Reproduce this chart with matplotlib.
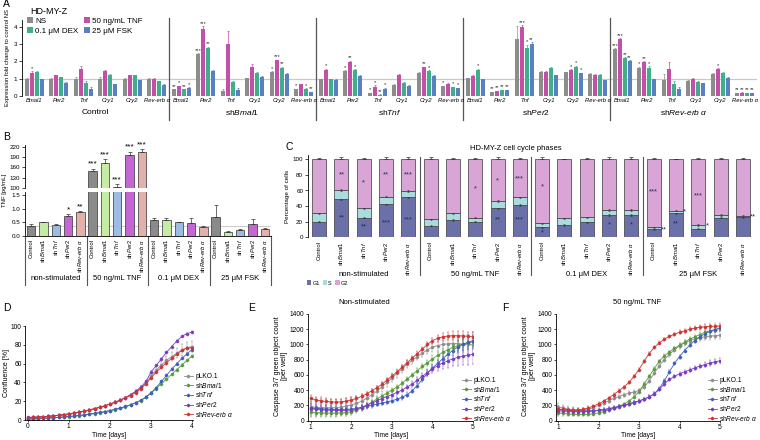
import numpy as np
import matplotlib
matplotlib.use("Agg")
import matplotlib.pyplot as plt
import matplotlib.transforms as mtransforms
from matplotlib.patches import Patch
from matplotlib.lines import Line2D

plt.rcParams['font.family'] = ['Liberation Sans', 'DejaVu Sans']
plt.rcParams['mathtext.fontset'] = 'custom'
plt.rcParams['mathtext.rm'] = 'Liberation Sans'
plt.rcParams['mathtext.it'] = 'Liberation Sans:italic'
plt.rcParams['axes.linewidth'] = 0.6
plt.rcParams['xtick.major.width'] = 0.5
plt.rcParams['ytick.major.width'] = 0.5
plt.rcParams['xtick.major.size'] = 2
plt.rcParams['ytick.major.size'] = 2
plt.rcParams['xtick.major.pad'] = 1.5
plt.rcParams['ytick.major.pad'] = 1.5

# ---------------- panel A: expression fold change ----------------
A_conditions = ["NS", "50 ng/mL TNF", "0.1 μM DEX", "25 μM FSK"]
A_colors = ["#8c8c8c", "#c44fa6", "#3fae8c", "#5b80c2"]
A_genes = ["Bmal1", "Per2", "Tnf", "Cry1", "Cry2", "Rev-erb α"]
A_lines = ["Control", r"sh$\mathit{Bmal1}$", r"sh$\mathit{Tnf}$", r"sh$\mathit{Per2}$",
           r"sh$\mathit{Rev}$-$\mathit{erb}$ $\alpha$"]

# rows = genes, columns = NS, TNF, DEX, FSK
A_control = [[1.0, 1.35, 1.38, 0.98], [1.0, 1.2, 1.08, 0.78], [1.0, 1.55, 0.78, 0.42],
             [1.0, 1.45, 1.22, 0.68], [1.0, 1.2, 1.2, 0.9], [1.0, 0.97, 0.85, 0.65]]
A_shbmal1 = [[0.38, 0.55, 0.38, 0.48], [2.42, 3.9, 2.75, 1.45], [0.28, 3.0, 0.8, 0.35],
             [1.02, 1.68, 1.35, 1.1], [1.37, 2.06, 1.64, 1.27], [0.4, 0.68, 0.42, 0.21]]
A_shtnf = [[0.97, 1.52, 0.97, 0.93], [1.45, 1.98, 1.5, 1.17], [0.15, 0.54, 0.08, 0.42],
           [0.64, 1.21, 0.77, 0.58], [1.35, 1.66, 1.45, 1.16], [0.56, 0.71, 0.5, 0.45]]
A_shper2 = [[1.04, 1.17, 1.52, 0.98], [0.23, 0.29, 0.35, 0.35], [3.28, 3.97, 2.76, 3.0],
            [1.4, 1.4, 1.64, 1.19], [1.37, 1.5, 1.7, 1.31], [1.27, 1.21, 1.21, 0.92]]
A_shrev = [[2.7, 3.28, 2.18, 2.02], [1.62, 1.97, 1.64, 0.97], [0.92, 1.54, 0.69, 0.4],
           [0.88, 1.0, 0.81, 0.73], [1.27, 1.58, 1.35, 1.06], [0.16, 0.19, 0.16, 0.16]]

A_control_err = [[0.03, 0.1, 0.04, 0.03], [0.03, 0.04, 0.03, 0.02], [0.12, 0.2, 0.1, 0.1],
                 [0.1, 0.03, 0.03, 0.02], [0.03, 0.03, 0.03, 0.04], [0.03, 0.05, 0.04, 0.03]]
A_shbmal1_err = [[0.03, 0.04, 0.03, 0.03], [0.05, 0.15, 0.1, 0.08], [0.15, 0.75, 0.05, 0.1],
                 [0.05, 0.15, 0.04, 0.03], [0.05, 0.05, 0.05, 0.05], [0.03, 0.04, 0.03, 0.03]]
A_shtnf_err = [[0.03, 0.05, 0.03, 0.03], [0.05, 0.07, 0.05, 0.04], [0.03, 0.1, 0.02, 0.05],
               [0.03, 0.04, 0.04, 0.03], [0.04, 0.04, 0.04, 0.04], [0.03, 0.04, 0.03, 0.03]]
A_shper2_err = [[0.03, 0.04, 0.06, 0.03], [0.02, 0.02, 0.02, 0.02], [0.75, 0.12, 0.2, 0.1],
                [0.04, 0.04, 0.05, 0.03], [0.04, 0.05, 0.06, 0.04], [0.04, 0.08, 0.04, 0.03]]
A_shrev_err = [[0.05, 0.08, 0.08, 0.05], [0.07, 0.06, 0.1, 0.03], [0.35, 0.45, 0.15, 0.1],
               [0.03, 0.03, 0.03, 0.03], [0.04, 0.04, 0.04, 0.03], [0.02, 0.02, 0.02, 0.02]]

A_control_stars = [["", "*", "", ""], ["", "", "", ""], ["", "", "", ""],
                   ["", "", "", ""], ["", "", "", ""], ["", "", "", ""]]
A_shbmal1_stars = [["**", "*", "**", "*"], ["***", "***", "**", ""], ["", "", "", ""],
                   ["", "", "", ""], ["*", "***", "**", ""], ["*", "", "*", "**"]]
A_shtnf_stars = [["", "*", "", ""], ["*", "**", "*", ""], ["*", "*", "**", "*"],
                 ["", "", "", ""], ["", "**", "*", ""], ["*", "", "*", "*"]]
A_shper2_stars = [["", "", "*", ""], ["**", "**", "**", "**"], ["", "***", "*", "**"],
                  ["", "", "", ""], ["", "*", "*", "*"], ["", "", "", ""]]
A_shrev_stars = [["***", "***", "**", "**"], ["*", "**", "*", ""], ["", "", "", ""],
                 ["", "", "", ""], ["", "*", "", ""], ["**", "**", "**", "**"]]

# ---------------- panel B: TNF secretion ----------------
B_groups = ["non-stimulated", "50 ng/mL TNF", "0.1 μM DEX", "25 μM FSK"]
B_lines = ["Control", r"sh$\mathit{Bmal1}$", r"sh$\mathit{Tnf}$", r"sh$\mathit{Per2}$",
           r"sh$\mathit{Rev}$-$\mathit{erb}$ $\alpha$"]
B_colors = ["#8a8a8a", "#c6eba4", "#9dbbe3", "#c466d4", "#e4b0ac"]
B_nonstim = [0.37, 0.50, 0.39, 0.75, 0.87]
B_nonstim_err = [0.08, 0.03, 0.05, 0.07, 0.03]
B_tnf = [150, 172, 103, 196, 205]
B_tnf_err = [6, 12, 8, 10, 8]
B_dex = [0.59, 0.59, 0.50, 0.46, 0.34]
B_dex_err = [0.06, 0.06, 0.03, 0.19, 0.03]
B_fsk = [0.71, 0.13, 0.21, 0.44, 0.26]
B_fsk_err = [0.42, 0.04, 0.03, 0.18, 0.02]
B_stars = ["", "", "", "*", "**", "***", "***", "***", "***", "***",
           "", "", "", "", "", "", "", "", "", ""]

# ---------------- panel C: cell cycle phases ----------------
C_groups = ["non-stimulated", "50 ng/mL TNF", "0.1 μM DEX", "25 μM FSK"]
C_colors = {"G1": "#6c70a9", "S": "#a9dcdc", "G2": "#d8a5d6"}
C_g1 = [20, 48.7, 25.2, 42.3, 51.3, 15, 22.2, 20, 37, 41.5,
        12.8, 15.8, 19.2, 28.6, 28.6, 10.3, 30.8, 11.1, 25.2, 25.6]
C_s = [10.8, 12, 12, 9.8, 8.1, 8, 8.6, 5.2, 9.6, 9.8,
       5.2, 8.6, 6.4, 6.4, 6.4, 2.5, 3.4, 4.7, 3.4, 1.8]
C_g2 = [69.2, 39.3, 62.8, 47.9, 40.6, 77, 69.2, 74.8, 53.4, 48.7,
        82, 75.6, 74.4, 65, 65, 87.2, 65.8, 84.2, 71.4, 72.6]
C_err = [1.5, 3, 1.5, 3, 2.5, 3, 2, 1.5, 3, 2, 2.5, 1, 1.5, 2.5, 2.5, 1.5, 1, 1.5, 2, 1.5]
C_stars = [(1, 80, "**", "c"), (1, 25, "**", "c"), (2, 70, "*", "c"), (2, 13, "**", "c"),
           (3, 80, "**", "c"), (3, 18, "***", "c"), (4, 80, "***", "c"), (4, 22, "***", "c"),
           (7, 62, "*", "c"), (8, 72, "*", "c"), (8, 22, "**", "c"), (9, 75, "***", "c"),
           (9, 22, "***", "c"), (10, 64, "*", "c"), (10, 6, "*", "c"), (13, 16, "*", "c"),
           (14, 16, "*", "c"), (15, 58, "***", "c"), (16, 17, "**", "c"), (17, 53, "***", "c"),
           (15, 10, "**", "r"), (16, 33, "*", "r"), (17, 14, "*", "r"), (19, 26, "**", "r")]

# ---------------- panels D-F: time courses ----------------
curve_names = ["pLKO.1", r"sh$\mathit{Bmal1}$", r"sh$\mathit{Tnf}$", r"sh$\mathit{Per2}$",
               r"sh$\mathit{Rev}$-$\mathit{erb}$ $\alpha$"]
curve_colors = ["#8c8c8c", "#5a9a3c", "#3c5fbf", "#7a3cc0", "#d23232"]

D_time = [0, 0.125, 0.25, 0.375, 0.5, 0.625, 0.75, 0.875, 1, 1.125, 1.25, 1.375, 1.5, 1.625,
          1.75, 1.875, 2, 2.125, 2.25, 2.375, 2.5, 2.625, 2.75, 2.875, 3, 3.125, 3.25, 3.375,
          3.5, 3.625, 3.75, 3.875, 4]
D_plko = [2.6, 2.8, 3.1, 3.4, 3.8, 4.3, 4.9, 5.6, 6.4, 7.3, 8.3, 9.4, 10.6, 11.9, 13.4, 15.0,
          16.8, 18.8, 21.0, 23.6, 26.6, 30.0, 34.2, 39.5, 47, 53, 58.5, 63.5, 67.5, 71, 74.5, 77, 78]
D_bmal1 = [1.0, 1.2, 1.4, 1.7, 2.0, 2.3, 2.7, 3.1, 3.6, 4.1, 4.7, 5.3, 6.0, 6.8, 7.7, 8.7,
           9.8, 11.0, 12.4, 14.0, 15.9, 18.1, 20.7, 24.0, 28.5, 33.5, 38.5, 43.5, 48.5, 53.5,
           58.5, 63.5, 68]
D_tnf = [1.2, 1.4, 1.6, 1.9, 2.2, 2.5, 2.9, 3.3, 3.8, 4.3, 4.9, 5.6, 6.3, 7.1, 8.0, 9.0,
         10.1, 11.4, 12.8, 14.4, 16.3, 18.5, 21.0, 24.5, 29.0, 34.5, 41, 47.5, 54, 60, 65.5, 70.5, 75]
D_per2 = [2.8, 3.0, 3.3, 3.6, 4.0, 4.5, 5.1, 5.8, 6.6, 7.5, 8.5, 9.6, 10.8, 12.1, 13.6, 15.2,
          17.0, 19.0, 21.3, 23.9, 27.0, 30.6, 35, 41, 51, 58, 65, 72, 78, 84, 89, 92, 93.5]
D_rev = [2.6, 2.9, 3.2, 3.5, 3.9, 4.4, 5.0, 5.7, 6.5, 7.4, 8.4, 9.5, 10.7, 12.0, 13.5, 15.2,
         17.0, 18.9, 21.0, 23.4, 26.0, 29.2, 33.0, 38.5, 45, 51, 56, 61, 65.5, 70, 74, 76.5, 77]
D_plko_err = [0.3, 0.3, 0.3, 0.3, 0.3, 0.3, 0.3, 0.3, 0.4, 0.4, 0.4, 0.5, 0.5, 0.5, 0.6, 0.6,
              0.7, 0.8, 0.9, 1.0, 1.2, 1.5, 2.0, 2.5, 3.0, 3.5, 4.0, 4.5, 5.0, 5.5, 6.0, 6.0, 6.0]
D_other_err = 0.8

EF_time = [1, 1.125, 1.25, 1.375, 1.5, 1.625, 1.75, 1.875, 2, 2.125, 2.25, 2.375, 2.5, 2.625,
           2.75, 2.875, 3, 3.125, 3.25, 3.375, 3.5, 3.625, 3.75, 3.875, 4, 4.125, 4.25, 4.375,
           4.5, 4.625, 4.75, 4.875, 5]
E_plko = [180, 175, 170, 168, 168, 170, 178, 190, 205, 225, 255, 290, 335, 385, 440, 500, 560,
          620, 680, 740, 790, 840, 885, 930, 965, 985, 1000, 1008, 1012, 1010, 1005, 1000, 995]
E_bmal1 = [110, 105, 100, 98, 97, 98, 100, 105, 115, 135, 165, 200, 240, 280, 320, 360, 400,
           440, 490, 545, 600, 655, 710, 760, 810, 855, 895, 930, 960, 985, 1005, 1020, 1035]
E_tnf = [165, 160, 155, 150, 147, 145, 145, 147, 150, 158, 170, 185, 200, 215, 230, 245, 260,
         280, 305, 340, 390, 460, 540, 620, 690, 750, 810, 870, 920, 965, 1000, 1030, 1050]
E_per2 = [155, 148, 142, 138, 135, 133, 133, 135, 140, 155, 175, 200, 228, 258, 288, 315, 340,
          370, 400, 440, 480, 530, 580, 630, 680, 720, 755, 785, 810, 830, 845, 860, 870]
E_rev = [290, 270, 258, 250, 245, 243, 245, 255, 270, 290, 318, 350, 390, 430, 475, 530, 585,
         640, 700, 760, 820, 880, 940, 1000, 1050, 1080, 1100, 1110, 1115, 1115, 1112, 1108, 1100]
E_plko_err = [120, 120, 115, 115, 110, 110, 105, 105, 100, 95, 90, 85, 80, 75, 70, 65, 60,
              55, 50, 50, 50, 50, 50, 55, 60, 70, 80, 90, 100, 110, 120, 125, 130]
E_bmal1_err = [70, 65, 60, 55, 50, 50, 45, 45, 40, 40, 35, 35, 30, 30, 30, 30, 30, 30, 30,
               30, 30, 30, 35, 40, 45, 50, 55, 60, 65, 70, 75, 80, 85]
E_tnf_err = [60, 55, 55, 50, 50, 45, 45, 40, 40, 35, 35, 30, 30, 30, 30, 30, 30, 30, 30,
             30, 30, 30, 35, 40, 45, 50, 55, 60, 70, 80, 90, 100, 110]
E_per2_err = [60, 55, 55, 50, 50, 45, 45, 40, 40, 35, 35, 30, 30, 30, 30, 30, 30, 30, 30,
              30, 35, 40, 45, 50, 60, 70, 80, 90, 100, 110, 120, 125, 130]
E_rev_err = [50, 45, 45, 40, 40, 40, 35, 35, 35, 30, 30, 30, 30, 30, 30, 30, 30, 30, 30,
             30, 30, 30, 30, 35, 40, 45, 50, 55, 60, 60, 60, 60, 60]

F_plko = [175, 165, 150, 140, 135, 138, 150, 170, 200, 230, 260, 290, 315, 340, 360, 375, 395,
          440, 520, 620, 720, 800, 870, 930, 980, 1020, 1050, 1075, 1090, 1100, 1110, 1115, 1120]
F_bmal1 = [100, 95, 88, 82, 80, 80, 82, 88, 100, 115, 135, 160, 185, 215, 255, 310, 380,
           480, 580, 680, 780, 850, 900, 950, 990, 1030, 1070, 1100, 1130, 1160, 1180, 1195, 1210]
F_tnf = [145, 140, 135, 130, 128, 127, 128, 130, 135, 143, 155, 168, 182, 198, 215, 235, 255,
         280, 310, 350, 420, 520, 640, 750, 840, 920, 990, 1050, 1100, 1140, 1170, 1195, 1215]
F_per2 = [130, 125, 120, 118, 117, 118, 120, 125, 132, 142, 155, 170, 186, 203, 220, 238, 258,
          282, 310, 350, 410, 480, 540, 580, 615, 640, 665, 690, 715, 735, 755, 772, 785]
F_rev = [150, 145, 140, 138, 140, 148, 165, 190, 220, 255, 295, 340, 390, 440, 500, 580, 670,
         780, 880, 960, 1020, 1070, 1105, 1135, 1160, 1180, 1200, 1215, 1225, 1232, 1237, 1240, 1242]
F_plko_err = [50, 45, 40, 35, 30, 30, 25, 25, 25, 25, 25, 25, 25, 25, 25, 25, 25, 25, 25, 25,
              25, 30, 30, 30, 35, 35, 40, 40, 45, 45, 50, 50, 50]
F_other_err = [40, 35, 30, 25, 20, 20, 20, 20, 20, 20, 20, 20, 20, 20, 20, 20, 20, 20, 20, 20,
               20, 20, 20, 20, 25, 25, 30, 30, 30, 30, 35, 35, 35]

# ---------------- figure helpers (pixel coordinates, origin top-left) ----------------
W, H = 760, 440
fig = plt.figure(figsize=(7.6, 4.4), dpi=100)


def add_ax(x0, y0, x1, y1):
    return fig.add_axes([x0 / W, 1 - y1 / H, (x1 - x0) / W, (y1 - y0) / H])


def ftext(x, y, s, **kw):
    return fig.text(x / W, 1 - y / H, s, **kw)


def only_left(ax, bottom=False):
    for side in ("top", "right"):
        ax.spines[side].set_visible(False)
    ax.spines["bottom"].set_visible(bottom)


for lab, (x, y) in zip("ABCDEF", [(3, 4), (3, 137), (285, 147), (3, 308), (248, 308), (502, 308)]):
    ftext(x, y, lab, fontsize=7.5, va="center", ha="left")

# ---------------- A ----------------
axA = add_ax(22, 20, 757, 96)
axA.set_xlim(0, 30)
axA.set_ylim(0, 4.4)
only_left(axA)
axA.axhline(1, color="#c9c9c9", lw=0.9, zorder=0)
A_vals = [A_control, A_shbmal1, A_shtnf, A_shper2, A_shrev]
A_errs = [A_control_err, A_shbmal1_err, A_shtnf_err, A_shper2_err, A_shrev_err]
A_strs = [A_control_stars, A_shbmal1_stars, A_shtnf_stars, A_shper2_stars, A_shrev_stars]
for gi in range(5):
    for ji in range(6):
        c = gi * 6 + ji + 0.5
        for ci in range(4):
            x = c + (ci - 1.5) * 0.2
            v = A_vals[gi][ji][ci]
            e = A_errs[gi][ji][ci]
            axA.bar(x, v, width=0.17, color=A_colors[ci], linewidth=0, zorder=2)
            axA.errorbar(x, v, yerr=[[0], [e]], fmt="none", ecolor=A_colors[ci],
                         elinewidth=0.5, capsize=0.8, capthick=0.5, zorder=2)
            s = A_strs[gi][ji][ci]
            if s:
                axA.text(x, v + e + 0.02, s, fontsize=4.2, ha="center", va="bottom",
                         color="#333333", linespacing=0.8)
        axA.text(c, -0.12, A_genes[ji], fontsize=4.2, style="italic", ha="center", va="top")
    axA.text(gi * 6 + 3, -0.93, A_lines[gi], fontsize=6, ha="center", va="center")
for xs in (6, 12, 18, 24):
    axA.plot([xs, xs], [4.5, -1.39], color="#555555", lw=0.9, clip_on=False)
axA.set_yticks([0, 1, 2, 3, 4])
axA.set_xticks([])
axA.tick_params(axis="y", labelsize=4.5)
ftext(8, 58, "Expression fold change to control NS", fontsize=4.2, rotation=90,
      ha="center", va="center")
ftext(30, 12, "HD-MY-Z", fontsize=6.5, va="center")
order = [0, 2, 1, 3]
handles = [Patch(facecolor=A_colors[i], label=A_conditions[i]) for i in order]
fig.legend(handles=handles, loc="upper left", bbox_to_anchor=(27 / W, 1 - 17 / H), ncol=2,
           fontsize=5.8, frameon=False, handlelength=0.7, handleheight=0.7, handletextpad=0.3,
           columnspacing=0.7, labelspacing=0.3, borderpad=0, borderaxespad=0)

# ---------------- B ----------------
axBU = add_ax(25, 145, 271, 188)
axBL = add_ax(25, 192, 271, 236)
B_vals = B_nonstim + B_tnf + B_dex + B_fsk
B_errs = B_nonstim_err + B_tnf_err + B_dex_err + B_fsk_err
xb = np.arange(len(B_vals))
for ax in (axBU, axBL):
    ax.bar(xb, B_vals, width=0.68, color=B_colors * 4, edgecolor="#333333", linewidth=0.5,
           zorder=2)
    ax.set_xlim(-0.5, 19.5)
    ax.tick_params(axis="y", labelsize=4.5)
axBU.set_ylim(100, 225.8)
axBL.set_ylim(0, 1.61)
only_left(axBU)
only_left(axBL, bottom=True)
axBU.set_xticks([])
axBU.set_yticks([100, 130, 160, 190, 220])
axBL.set_yticks([0, 0.5, 1.0, 1.5])
axBL.set_yticklabels(["0.0", "0.5", "1.0", "1.5"])
axBL.set_xticks(xb)
axBL.set_xticklabels(B_lines * 4, rotation=90, fontsize=4.2)
axBL.tick_params(axis="x", length=0, pad=2)
axBL.axhline(B_nonstim[0], color="#cccccc", lw=0.8, zorder=0)
for i in range(len(B_vals)):
    ax = axBU if 5 <= i < 10 else axBL
    ax.errorbar(i, B_vals[i], yerr=[[0], [B_errs[i]]], fmt="none", ecolor="#333333",
                elinewidth=0.5, capsize=1.5, capthick=0.5, zorder=3)
    if B_stars[i]:
        dy = 3 if ax is axBU else 0.02
        ax.text(i, B_vals[i] + B_errs[i] + dy, B_stars[i], fontsize=6, ha="center",
                va="bottom", linespacing=0.8)
tb = mtransforms.blended_transform_factory(axBL.transData, axBL.transAxes)
for xs in (-0.5, 4.5, 9.5, 14.5, 19.5):
    axBL.plot([xs, xs], [0, -1.12], color="#555555", lw=0.8, transform=tb, clip_on=False)
for gi, g in enumerate(B_groups):
    axBL.text(gi * 5 + 2, -0.96, g, fontsize=5.5, ha="center", va="center", transform=tb)
ftext(5, 190, "TNF [pg/mL]", fontsize=4.3, rotation=90, ha="center", va="center")

# ---------------- C ----------------
axC = add_ax(308, 155.4, 754, 237.3)
xc = np.arange(len(C_g1))
g1s = np.array(C_g1)
ss = np.array(C_s)
g2s = np.array(C_g2)
axC.bar(xc, g1s, width=0.63, color=C_colors["G1"], edgecolor="#3a3a3a", linewidth=0.5)
axC.bar(xc, ss, bottom=g1s, width=0.63, color=C_colors["S"], edgecolor="#3a3a3a", linewidth=0.5)
axC.bar(xc, g2s, bottom=g1s + ss, width=0.63, color=C_colors["G2"], edgecolor="#3a3a3a",
        linewidth=0.5)
tops = g1s + ss + g2s
axC.errorbar(xc, tops, yerr=[np.zeros(len(xc)), C_err], fmt="none", ecolor="#333333",
             elinewidth=0.5, capsize=1.5, capthick=0.5)
axC.errorbar(xc, g1s, yerr=0.8, fmt="none", ecolor="#333333", elinewidth=0.4, capsize=1,
             capthick=0.4)
axC.errorbar(xc, g1s + ss, yerr=0.8, fmt="none", ecolor="#333333", elinewidth=0.4, capsize=1,
             capthick=0.4)
for i, y, s, pos in C_stars:
    if pos == "c":
        axC.text(i, y, s, fontsize=5.5, ha="center", va="center", color="#2a2a55")
    else:
        axC.text(i + 0.33, y, s, fontsize=5.5, ha="left", va="center", color="#2a2a55")
axC.set_xlim(-0.5, 19.5)
axC.set_ylim(0, 105)
only_left(axC)
axC.set_yticks([0, 20, 40, 60, 80, 100])
axC.tick_params(axis="y", labelsize=4.5)
axC.set_xticks(xc)
axC.set_xticklabels(B_lines * 4, rotation=90, fontsize=4.2)
axC.tick_params(axis="x", length=0, pad=3)
axC.set_ylabel("Percentage of cells", fontsize=4.5, labelpad=2)
tc = mtransforms.blended_transform_factory(axC.transData, axC.transAxes)
for xs in (4.5, 9.5, 14.5):
    axC.plot([xs, xs], [0.98, -0.46], color="#555555", lw=0.8, transform=tc, clip_on=False)
for gi, g in enumerate(C_groups):
    axC.text(gi * 5 + 2, -0.46, g, fontsize=5.5, ha="center", va="center", transform=tc)
ftext(516, 148, "HD-MY-Z cell cycle phases", fontsize=5.5, ha="center", va="center")
c_handles = [Patch(facecolor=C_colors[k], edgecolor="none", label=k) for k in ("G1", "S", "G2")]
fig.legend(handles=c_handles, loc="center left", bbox_to_anchor=(307 / W, 1 - 283 / H), ncol=3,
           fontsize=4, frameon=False, handlelength=0.8, handleheight=0.8, handletextpad=0.15,
           columnspacing=0.6, borderpad=0, borderaxespad=0)


# ---------------- D, E, F ----------------
def time_panel(ax, t, series, errs):
    for ys, es, col in zip(series, errs, curve_colors):
        ax.errorbar(t, ys, yerr=es, color=col, lw=0.6, marker="D", ms=1.3, elinewidth=0.35,
                    capsize=0.8, capthick=0.35, ecolor=col)
    for side in ("top", "right"):
        ax.spines[side].set_visible(False)
    ax.tick_params(labelsize=4.8, pad=1, length=1.5)


def curve_legend(x, y):
    hs = [Line2D([], [], color=c, lw=0.6, marker="D", ms=1.3, label=n)
          for c, n in zip(curve_colors, curve_names)]
    fig.legend(handles=hs, loc="upper left", bbox_to_anchor=(x / W, 1 - y / H), fontsize=4.8,
               frameon=False, handlelength=1.3, handletextpad=0.4, labelspacing=0.1,
               borderpad=0, borderaxespad=0)


axD = add_ax(25, 326, 193, 420)
time_panel(axD, D_time, [D_plko, D_bmal1, D_tnf, D_per2, D_rev],
           [D_plko_err, D_other_err, D_other_err, D_other_err, D_other_err])
axD.set_xlim(-0.066, 4.02)
axD.set_ylim(0, 100)
axD.set_xticks([0, 1, 2, 3, 4])
axD.set_yticks([0, 20, 40, 60, 80, 100])
ftext(109, 435.5, "Time [days]", fontsize=4.8, ha="center", va="center")
ftext(7, 373, "Confluence [%]", fontsize=5, rotation=90, ha="center", va="center")
curve_legend(184, 373)

axE = add_ax(308, 314, 473, 420.5)
time_panel(axE, EF_time, [E_plko, E_bmal1, E_tnf, E_per2, E_rev],
           [E_plko_err, E_bmal1_err, E_tnf_err, E_per2_err, E_rev_err])
axE.set_xlim(0.93, 5.0)
axE.set_ylim(0, 1400)
axE.set_xticks([1, 2, 3, 4, 5])
axE.set_yticks(range(0, 1401, 200))
ftext(391, 435.5, "Time [days]", fontsize=4.8, ha="center", va="center")
ftext(281, 366, "Caspase 3/7 green object count\n[per well]", fontsize=5, rotation=90,
      ha="center", va="center", linespacing=1.0)
ftext(364, 303, "Non-stimulated", fontsize=5.5, ha="center", va="center")
curve_legend(462, 377)

axF = add_ax(556, 314, 720, 420.5)
time_panel(axF, EF_time, [F_plko, F_bmal1, F_tnf, F_per2, F_rev],
           [F_plko_err, F_other_err, F_other_err, F_other_err, F_other_err])
axF.set_xlim(0.95, 5.0)
axF.set_ylim(0, 1400)
axF.set_xticks([1, 2, 3, 4, 5])
axF.set_yticks(range(0, 1401, 200))
ftext(638, 435.5, "Time [days]", fontsize=4.8, ha="center", va="center")
ftext(529, 366, "Caspase 3/7 green object count\n[per well]", fontsize=5, rotation=90,
      ha="center", va="center", linespacing=1.0)
ftext(637, 303, "50 ng/mL TNF", fontsize=5.5, ha="center", va="center")
curve_legend(708, 377)

fig.savefig("out.png", dpi=100)
